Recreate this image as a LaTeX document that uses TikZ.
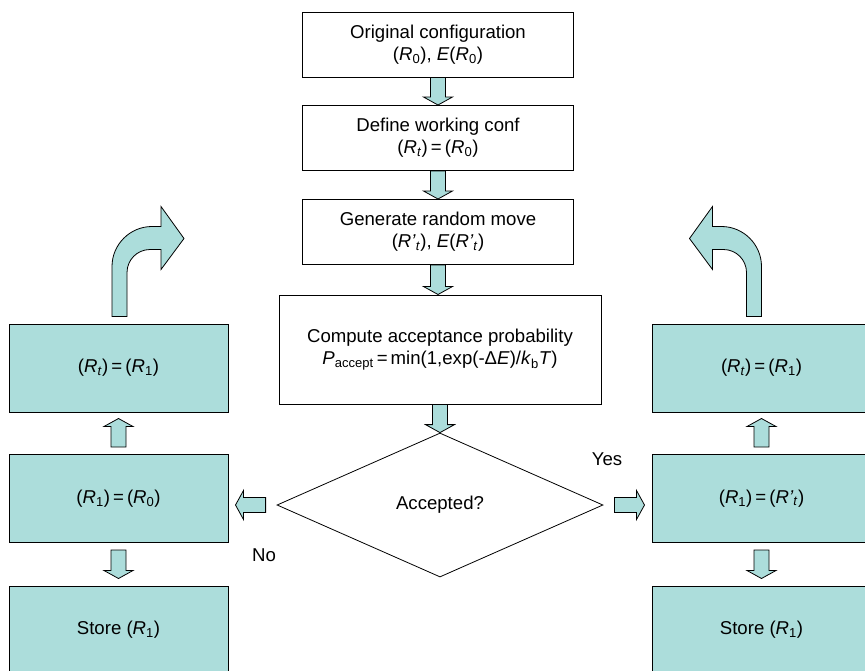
\documentclass[tikz,border=0pt]{standalone}
\usepackage{fontspec}
\setmainfont{Liberation Sans}
\usetikzlibrary{calc,shapes.geometric}

\definecolor{panel}{RGB}{172,221,219}
\newcommand\Ri[1]{\textit{R}\textsubscript{#1}}
\newcommand\fatarrow[2]{%
  \path #1 coordinate (fas) #2 coordinate (fae);
  \path ($(fae)!8pt!(fas)$) coordinate (fac);
  \filldraw[arrowfill] ($(fas)!7.5pt!90:(fae)$) -- ($(fac)!7.5pt!90:(fae)$)
    -- ($(fac)!14.5pt!90:(fae)$) -- (fae) -- ($(fac)!14.5pt!-90:(fae)$)
    -- ($(fac)!7.5pt!-90:(fae)$) -- ($(fas)!7.5pt!-90:(fae)$) -- cycle;}

\tikzset{
  txt/.style={font=\fontsize{18.6}{22}\selectfont},
  box/.style={draw, line width=1pt, inner sep=0pt, align=center, txt},
  midbox/.style={box, fill=white, minimum width=271pt, minimum height=65pt},
  sidebox/.style={box, fill=panel, minimum width=219pt, minimum height=88pt},
  arrowfill/.style={draw, fill=panel, line width=0.8pt, line join=miter},
}

\begin{document}
\begin{tikzpicture}[x=1pt,y=-1pt]
\useasboundingbox (0,0) rectangle (865,670);
\clip (0,0) rectangle (865,670);

\node[midbox] (orig) at (438,44.5) {Original configuration\\(\Ri{0}), \textit{E}(\Ri{0})};
\node[midbox] (work) at (438,138) {Define working conf\\(\Ri{\textit{t}})\,=\,(\Ri{0})};
\node[midbox] (move) at (438,232) {Generate random move\\(\textit{R'}\textsubscript{\textit{t}}), \textit{E}(\textit{R'}\textsubscript{\textit{t}})};
\node[box, fill=white, minimum width=322pt, minimum height=109pt] (prob) at (440,349.5)
  {Compute acceptance probability\\\textit{P}\textsubscript{accept}\,=\,min(1,exp(-Δ\textit{E})/\textit{k}\textsubscript{b}\textit{T})};
\node[draw, diamond, line width=0.8pt, aspect=2.26, minimum width=326pt, minimum height=144pt,
  inner sep=0pt, txt] (dec) at (440,505) {Accepted?};

\node[sidebox] (lrt) at (118.5,368) {(\Ri{\textit{t}})\,=\,(\Ri{1})};
\node[sidebox] (lr1) at (118.5,498.5) {(\Ri{1})\,=\,(\Ri{0})};
\node[sidebox] (ls) at (118.5,630) {Store (\Ri{1})};
\node[sidebox] (rrt) at (761.5,368) {(\Ri{\textit{t}})\,=\,(\Ri{1})};
\node[sidebox] (rr1) at (761.5,498.5) {(\Ri{1})\,=\,(\textit{R'}\textsubscript{\textit{t}})};
\node[sidebox] (rs) at (761.5,630) {Store (\Ri{1})};

\node[txt] (yes) at (607,459) {Yes};
\node[txt] (no) at (264,555) {No};

\fatarrow{(orig.south)}{(work.north)}
\fatarrow{(work.south)}{(move.north)}
\fatarrow{(move.south)}{(move.south |- prob.north)}
\fatarrow{(prob.south)}{(dec.north)}
\fatarrow{($(dec.west)+(-11,0)$)}{($(lr1.east |- dec.west)+(7,0)$)}
\fatarrow{($(dec.east)+(11,0)$)}{($(rr1.west |- dec.east)+(-7,0)$)}
\fatarrow{($(lr1.north)+(0,-7)$)}{($(lrt.south)+(0,6)$)}
\fatarrow{($(lr1.south)+(0,7)$)}{($(ls.north)+(0,-7)$)}
\fatarrow{($(rr1.north)+(0,-7)$)}{($(rrt.south)+(0,6)$)}
\fatarrow{($(rr1.south)+(0,7)$)}{($(rs.north)+(0,-7)$)}

% bent arrows back to the top of the loop
\coordinate (lbend) at ($(lrt.north)+(1,-7)$);
\coordinate (rbend) at ($(rrt.north)+(-7.5,-7)$);
\filldraw[arrowfill, shift={(lbend)}] (-7.5,0) -- (-7.5,-50) .. controls (-7.5,-72) and (10.5,-90) .. (32.5,-90)
  -- (41.5,-90) -- (41.5,-110) -- (64.5,-78) -- (41.5,-47) -- (41.5,-67) -- (30.5,-67)
  .. controls (17.8,-67) and (7.5,-56.7) .. (7.5,-44) -- (7.5,0) -- cycle;
\filldraw[arrowfill, shift={(rbend)}, xscale=-1] (-7.5,0) -- (-7.5,-50) .. controls (-7.5,-72) and (10.5,-90) .. (32.5,-90)
  -- (41.5,-90) -- (41.5,-110) -- (64.5,-78) -- (41.5,-47) -- (41.5,-67) -- (30.5,-67)
  .. controls (17.8,-67) and (7.5,-56.7) .. (7.5,-44) -- (7.5,0) -- cycle;
\end{tikzpicture}
\end{document}
